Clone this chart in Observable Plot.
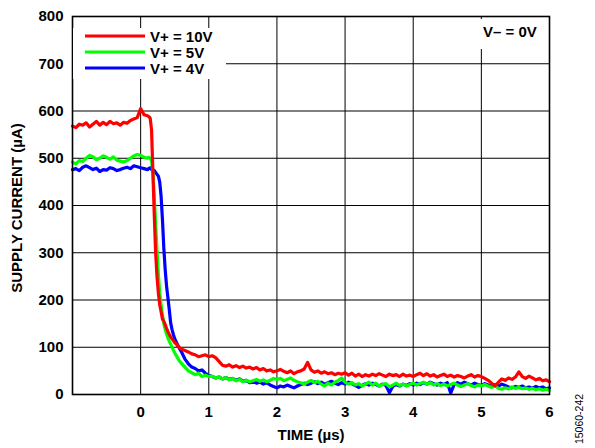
<!DOCTYPE html>
<html><head><meta charset="utf-8">
<script src="https://cdn.jsdelivr.net/npm/d3@7"></script>
<script src="https://cdn.jsdelivr.net/npm/@observablehq/plot@0.6"></script>
<style>body{margin:0;background:#fff} svg{display:block}</style>
</head><body><div id="chart"></div><script>
// sample times (µs)
const time = [
  -1,-0.95,-0.9,-0.85,-0.8,-0.75,-0.7,-0.65,-0.6,-0.55,-0.5,-0.45,-0.4,-0.35,-0.3,-0.25,-0.2,-0.15,-0.1,-0.05,0,0.05,0.1,
  0.12,0.14,0.16,0.18,0.2,0.22,0.24,0.26,0.28,0.3,0.32,0.34,0.36,0.38,0.4,0.42,0.44,0.46,0.48,0.5,0.52,0.54,0.56,0.58,0.6,
  0.65,0.7,0.75,0.8,0.85,0.9,0.95,1,
  1.05,1.1,1.15,1.2,1.25,1.3,1.35,1.4,1.45,1.5,1.55,1.6,1.65,1.7,1.75,1.8,1.85,1.9,1.95,2,
  2.05,2.1,2.15,2.2,2.25,2.3,2.35,2.4,2.45,2.5,2.55,2.6,2.65,2.7,2.75,2.8,2.85,2.9,2.95,3,
  3.05,3.1,3.15,3.2,3.25,3.3,3.35,3.4,3.45,3.5,3.55,3.6,3.65,3.7,3.75,3.8,3.85,3.9,3.95,4,
  4.05,4.1,4.15,4.2,4.25,4.3,4.35,4.4,4.45,4.5,4.55,4.6,4.65,4.7,4.75,4.8,4.85,4.9,4.95,5,
  5.05,5.1,5.15,5.2,5.25,5.3,5.35,5.4,5.45,5.5,5.55,5.6,5.65,5.7,5.75,5.8,5.85,5.9,5.95,6
];
// supply current (µA), V+ = 10V
const current10V = [
  568,565,572,570,575,566,572,578,570,576,571,578,573,575,570,576,574,580,583,586,605,592,590,
  588,585,560,470,380,300,250,215,190,175,160,155,148,140,133,127,122,118,114,110,107,104,101,98,96,
  93,90,86,84,80,82,84,80,
  82,78,70,62,60,63,58,61,57,60,56,58,54,57,52,55,50,52,48,50,
  53,49,46,50,44,48,50,54,68,52,47,50,45,48,44,46,42,45,43,46,
  41,45,39,43,38,42,39,43,40,44,41,38,43,40,42,38,43,39,41,38,
  42,45,40,44,39,42,37,40,43,38,41,37,40,38,35,39,42,37,40,38,
  34,30,24,18,26,33,30,35,32,37,48,38,34,39,35,31,34,29,31,27
];
// supply current (µA), V+ = 5V
const current5V = [
  492,488,495,493,500,506,503,497,500,505,502,498,503,496,494,492,495,500,505,508,506,502,500,
  502,500,495,470,420,360,305,255,215,190,168,150,138,128,120,113,107,100,94,88,83,78,73,69,66,
  58,50,46,42,45,38,41,38,
  39,35,37,33,36,31,34,29,32,27,30,27,29,32,28,31,27,30,34,32,
  34,29,32,35,30,27,25,22,26,30,25,28,22,18,24,20,26,30,35,26,
  22,25,20,23,18,22,26,20,24,18,21,23,16,20,24,19,22,18,21,24,
  20,23,26,22,25,20,23,19,22,18,21,24,20,17,20,23,19,16,20,18,
  21,18,15,19,13,11,14,12,16,13,15,12,14,11,13,10,12,9,11,9
];
// supply current (µA), V+ = 4V
const current4V = [
  476,478,474,481,484,480,476,479,472,476,475,480,478,474,476,479,481,478,484,482,480,478,476,
  478,480,476,475,474,470,466,462,450,420,370,310,265,230,205,180,152,138,127,118,112,106,100,95,90,
  75,65,58,55,50,52,45,40,
  38,35,37,33,36,32,34,30,33,28,30,25,28,24,26,22,25,20,17,14,
  18,16,20,17,14,18,21,24,21,24,27,23,26,22,25,28,24,21,25,22,
  26,23,19,15,19,23,20,24,21,18,22,19,4,17,21,18,22,19,23,20,
  24,21,25,22,26,23,20,24,21,25,3,21,25,22,26,23,20,24,21,19,
  23,20,17,21,18,22,19,16,14,17,15,18,14,16,13,17,14,16,12,14
];
const seriesNames = ["V+ = 10V", "V+ = 5V", "V+ = 4V"];
const seriesColors = ["#ff0000", "#00ff00", "#0000ff"];
const seriesValues = [current10V, current5V, current4V];
const xTicks = [-1, 0, 1, 2, 3, 4, 5, 6];
const yTicks = [0, 100, 200, 300, 400, 500, 600, 700, 800];
const xLabel = "TIME (µs)";
const yLabel = "SUPPLY CURRENT (µA)";
const noteText = "V– = 0V";
const figId = "15060-242";

const rowsFor = (vals) => time.map((t, i) => ({t, v: vals[i]}));
const drawOrder = [2, 1, 0];

const font = "'Liberation Sans', Arial, sans-serif";
const plot = Plot.plot({
  width: 595, height: 448,
  marginLeft: 72, marginRight: 46, marginTop: 16, marginBottom: 54,
  style: {fontFamily: font, fontSize: "15px", fontWeight: "bold", background: "white", color: "black", overflow: "visible"},
  x: {domain: [-1, 6]},
  y: {domain: [0, 800]},
  marks: [
    Plot.gridX(xTicks, {stroke: "black", strokeOpacity: 1, strokeWidth: 1}),
    Plot.gridY(yTicks, {stroke: "black", strokeOpacity: 1, strokeWidth: 1}),
    Plot.axisX(xTicks, {tickSize: 0, tickPadding: 12, tickFormat: d => d === -1 ? "" : String(d), label: null, fontSize: 15, fontWeight: "bold"}),
    Plot.axisY(yTicks, {tickSize: 0, tickPadding: 9, label: null, fontSize: 15, fontWeight: "bold"}),
    ...drawOrder.map(i => Plot.line(rowsFor(seriesValues[i]), {x: "t", y: "v", stroke: seriesColors[i], strokeWidth: 3.2, strokeLinejoin: "round"})),
    Plot.frame({stroke: "black", strokeWidth: 1.6})
  ]
});

const svg = d3.select(plot);
const txt = (sel) => sel.attr("font-family", font).attr("fill", "black");
// legend
const lg = svg.append("g");
lg.append("rect").attr("x", 73).attr("y", 28).attr("width", 153).attr("height", 51).attr("fill", "white");
seriesNames.forEach((name, i) => {
  const y = 36 + i * 16;
  lg.append("line").attr("x1", 85).attr("x2", 145).attr("y1", y).attr("y2", y)
    .attr("stroke", seriesColors[i]).attr("stroke-width", 3);
  lg.append("text").attr("x", 150).attr("y", y + 6).attr("text-anchor", "start").text(name)
    .call(txt).attr("font-size", 15).attr("font-weight", "bold");
});
// note
svg.append("rect").attr("x", 477).attr("y", 19).attr("width", 70).attr("height", 30).attr("fill", "white");
svg.append("text").attr("x", 483).attr("y", 37).attr("text-anchor", "start").text(noteText)
  .call(txt).attr("font-size", 15).attr("font-weight", "bold");
// axis labels
svg.append("text").attr("x", 311).attr("y", 440).attr("text-anchor", "middle").text(xLabel)
  .call(txt).attr("font-size", 15).attr("font-weight", "bold");
svg.append("text").attr("transform", "translate(22,208) rotate(-90)").attr("text-anchor", "middle").text(yLabel)
  .call(txt).attr("font-size", 15).attr("font-weight", "bold");
svg.append("text").attr("transform", "translate(583,419) rotate(-90)").attr("text-anchor", "middle").text(figId)
  .call(txt).attr("font-size", 10.5).attr("font-weight", "normal");

document.getElementById("chart").appendChild(plot);
</script></body></html>
